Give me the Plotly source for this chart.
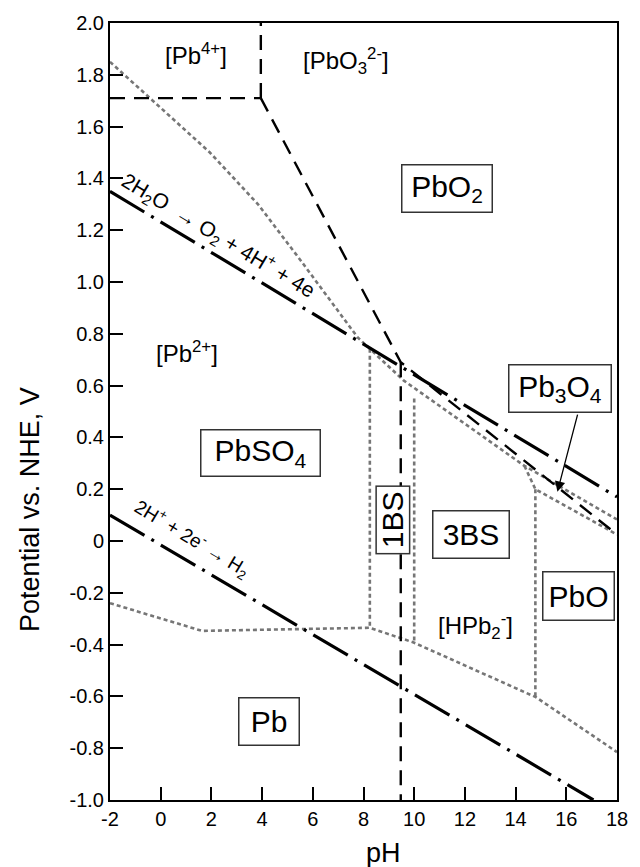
import plotly.graph_objects as go

# ---------------- data ----------------
x_ticks = [-2, 0, 2, 4, 6, 8, 10, 12, 14, 16, 18]
x_ticktext = ["-2", "0", "2", "4", "6", "8", "10", "12", "14", "16", "18"]
y_ticks = [2.0, 1.8, 1.6, 1.4, 1.2, 1.0, 0.8, 0.6, 0.4, 0.2, 0.0, -0.2, -0.4, -0.6, -0.8, -1.0]
y_ticktext = ["2.0", "1.8", "1.6", "1.4", "1.2", "1.0", "0.8", "0.6", "0.4", "0.2", "0",
              "-0.2", "-0.4", "-0.6", "-0.8", "-1.0"]

# water stability lines (dash-dot)
o2_ph = [-2, 18]
o2_E = [1.35, 0.17]
h2_ph = [-2, 17.07]
h2_E = [0.10, -1.0]

# black dashed boundaries
pb4_h_ph = [-2, 3.95]
pb4_h_E = [1.71, 1.71]
pb4_v_ph = [3.95, 3.95]
pb4_v_E = [1.71, 2.0]
pbo2_ph = [3.95, 9.47, 18]
pbo2_E = [1.71, 0.69, 0.025]
vdash_ph = [9.47, 9.47]
vdash_E = [0.69, -1.0]

# gray dotted boundaries
up_ph = [-2, 1.94, 3.84, 5.5, 7.77, 9.58, 14.35, 18]
up_E = [1.85, 1.50, 1.30, 1.086, 0.786, 0.62, 0.29, 0.083]
br_ph = [14.35, 14.78, 18]
br_E = [0.29, 0.20, 0.025]
v1_ph = [8.25, 8.25]
v1_E = [0.742, -0.335]
v2_ph = [10.0, 10.0]
v2_E = [0.55, -0.392]
v3_ph = [14.78, 14.78]
v3_E = [0.20, -0.603]
low_ph = [-2, 1.63, 8.25, 9.98, 14.8, 18]
low_E = [-0.24, -0.347, -0.335, -0.392, -0.603, -0.815]

# ---------------- figure ----------------
FONT = "Liberation Sans, Arial, sans-serif"
fig = go.Figure()

def add_line(xs, ys, color, width, dash):
    fig.add_trace(go.Scatter(x=xs, y=ys, mode="lines", showlegend=False, hoverinfo="skip",
                             line=dict(color=color, width=width, dash=dash)))

dot_style = ("#767676", 2.6, "4px,3px")
for xs, ys in [(up_ph, up_E), (br_ph, br_E), (v1_ph, v1_E), (v2_ph, v2_E),
               (v3_ph, v3_E), (low_ph, low_E)]:
    add_line(xs, ys, *dot_style)

dash_style = ("black", 2.4, "15px,9px")
for xs, ys in [(pb4_h_ph, pb4_h_E), (pb4_v_ph, pb4_v_E), (pbo2_ph, pbo2_E), (vdash_ph, vdash_E)]:
    add_line(xs, ys, *dash_style)

dd_style = ("black", 3.2, "40px,8px,3px,8px")
add_line(o2_ph, o2_E, *dd_style)
add_line(h2_ph, h2_E, *dd_style)

annotations = []

def boxed(text, x, y, w, h, size=30, angle=0):
    annotations.append(dict(x=x, y=y, xref="x", yref="y", text=text, showarrow=False,
                            font=dict(family=FONT, size=size, color="black"),
                            bordercolor="#333333", borderwidth=1.5, borderpad=0,
                            bgcolor="white", width=w, height=h, textangle=angle,
                            xanchor="center", yanchor="middle"))

def plain(text, x, y, size=24, angle=0):
    annotations.append(dict(x=x, y=y, xref="x", yref="y", text=text, showarrow=False,
                            font=dict(family=FONT, size=size, color="black"),
                            textangle=angle, xanchor="center", yanchor="middle"))

boxed("PbO<sub>2</sub>", 11.28, 1.36, 89, 46)
boxed("PbSO<sub>4</sub>", 3.95, 0.34, 118, 45)
boxed("Pb<sub>3</sub>O<sub>4</sub>", 15.76, 0.588, 101, 46)
boxed("1BS", 9.14, 0.081, 66, 32, angle=-90)
boxed("3BS", 12.23, 0.027, 75, 46)
boxed("PbO", 16.47, -0.213, 70, 47)
boxed("Pb", 4.29, -0.695, 59, 46)

plain("[Pb<sup>4+</sup>]", 1.40, 1.88)
plain("[PbO<sub>3</sub><sup>2-</sup>]", 7.3, 1.854)
plain("[Pb<sup>2+</sup>]", 1.03, 0.728)
plain("[HPb<sub>2</sub><sup>-</sup>]", 12.4, -0.328)
plain("2H<sub>2</sub>O  \u2192 O<sub>2</sub> + 4H<sup>+</sup> + 4e", 2.29, 1.18, size=21, angle=31)
plain("2H<sup>+</sup> + 2e<sup>-</sup> \u2192 H<sub>2</sub>", 1.24, 0.01, size=19, angle=31)

# arrow from Pb3O4 box to its narrow region
annotations.append(dict(x=15.65, y=0.19, xref="x", yref="y", ax=16.46, ay=0.494,
                        axref="x", ayref="y", text="", showarrow=True,
                        arrowhead=2, arrowsize=1.6, arrowwidth=1.3, arrowcolor="black"))

# axis titles
annotations.append(dict(x=8.8, y=0, xref="x", yref="paper", yshift=-53, text="pH",
                        showarrow=False, font=dict(family=FONT, size=27, color="black"),
                        xanchor="center", yanchor="middle"))
annotations.append(dict(x=0, y=0.12, xref="paper", yref="y", xshift=-80,
                        text="Potential vs. NHE, V", showarrow=False, textangle=-90,
                        font=dict(family=FONT, size=27, color="black"),
                        xanchor="center", yanchor="middle"))

fig.update_layout(
    width=640, height=867,
    margin=dict(l=110, r=12, t=19, b=67),
    plot_bgcolor="white", paper_bgcolor="white",
    annotations=annotations,
    font=dict(family=FONT, color="black"),
)
fig.update_xaxes(range=[-2, 18], tickvals=x_ticks, ticktext=x_ticktext,
                 ticks="inside", ticklen=13, tickwidth=2, tickcolor="black",
                 showline=True, linecolor="black", linewidth=2, mirror=True,
                 showgrid=False, zeroline=False, tickfont=dict(family=FONT, size=20))
fig.update_yaxes(range=[-1.0, 2.0], tickvals=y_ticks, ticktext=y_ticktext,
                 ticks="inside", ticklen=13, tickwidth=2, tickcolor="black",
                 showline=True, linecolor="black", linewidth=2, mirror=True,
                 showgrid=False, zeroline=False, tickfont=dict(family=FONT, size=20))

fig.write_html("out.html")
